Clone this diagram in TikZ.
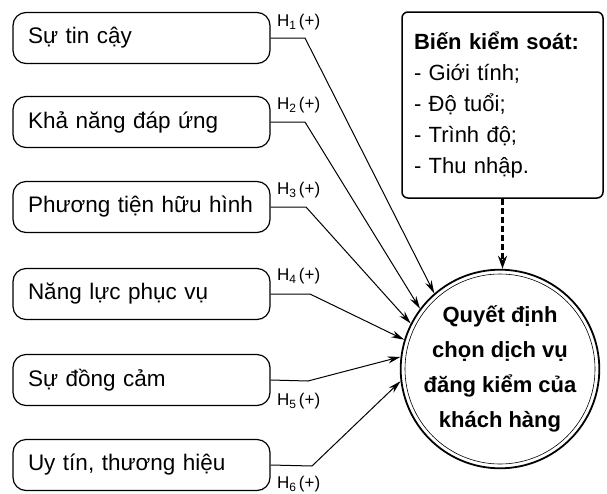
\documentclass[tikz,border=0pt]{standalone}
\usepackage{fontspec}
\setmainfont{Liberation Sans}
\usetikzlibrary{arrows.meta}
\newcommand{\hlab}[1]{H\raisebox{-0.35ex}{\fontsize{12}{12}\selectfont #1}\,(+)}
\begin{document}
\begin{tikzpicture}[x=1pt,y=-1pt,
  factor/.style={draw, line width=1.2pt, rounded corners=13pt, minimum width=257pt,
    minimum height=51pt, inner xsep=15pt, text width=227pt, align=left,
    font=\fontsize{22.5}{26}\selectfont},
  link/.style={line width=1pt, -{Stealth[length=13pt,width=7pt]}},
  hyp/.style={anchor=west, inner sep=0pt, font=\fontsize{17}{18}\selectfont}]
\useasboundingbox (0,0) rectangle (607,493);
\fill[white] (0,0) rectangle (607,493);

\node[factor] (b1) at (141.5,38)  {Sự tin cậy};
\node[factor] (b2) at (141.5,122) {Khả năng đáp ứng};
\node[factor] (b3) at (141.5,207) {Phương tiện hữu hình};
\node[factor] (b4) at (141.5,294) {Năng lực phục vụ};
\node[factor] (b5) at (141.5,380) {Sự đồng cảm};
\node[factor] (b6) at (141.5,465) {Uy tín, thương hiệu};

\node[draw, line width=1.8pt, circle, minimum size=196pt, inner sep=0pt, align=center,
  font=\fontsize{22}{35}\selectfont\bfseries] (c) at (500,369)
  {Quyết định\\chọn dịch vụ\\đăng kiểm của\\khách hàng};
\draw[line width=0.6pt] (c.center) circle[radius=95pt];

\node[draw, line width=1.5pt, rounded corners=6pt, minimum width=201pt, minimum height=186pt,
  text width=177pt, align=left, font=\fontsize{22}{31}\selectfont] (ctrl) at (502.5,105)
  {\textbf{Biến kiểm soát:}\\- Giới tính;\\- Độ tuổi;\\- Trình độ;\\- Thu nhập.};

\coordinate (k1) at (305,38);
\coordinate (k2) at (305,122);
\coordinate (k3) at (306,207);
\coordinate (k4) at (310,294);
\coordinate (k5) at (308,381);
\coordinate (k6) at (312,466);

\draw[link] (b1.east) -- (k1) -- (c.131.8);
\draw[link] (b2.east) -- (k2) -- (c.143.4);
\draw[link] (b3.east) -- (k3) -- (c.153.4);
\draw[link] (b4.east) -- (k4) -- (c.163.4);
\draw[link] (b5.east) -- (k5) -- (c.173.2);
\draw[link] (b6.east) -- (k6) -- (c.187.7);

\node[hyp] (h1) at (277,22)  {\hlab{1}};
\node[hyp] (h2) at (277,105) {\hlab{2}};
\node[hyp] (h3) at (277,190) {\hlab{3}};
\node[hyp] (h4) at (277,276) {\hlab{4}};
\node[hyp] (h5) at (277,401) {\hlab{5}};
\node[hyp] (h6) at (277,484) {\hlab{6}};

\draw[line width=2.2pt, dash pattern=on 6pt off 3pt, -{Stealth[length=13pt,width=9pt]}]
  (ctrl.south) -- (ctrl.south |- c.north);
\end{tikzpicture}
\end{document}
